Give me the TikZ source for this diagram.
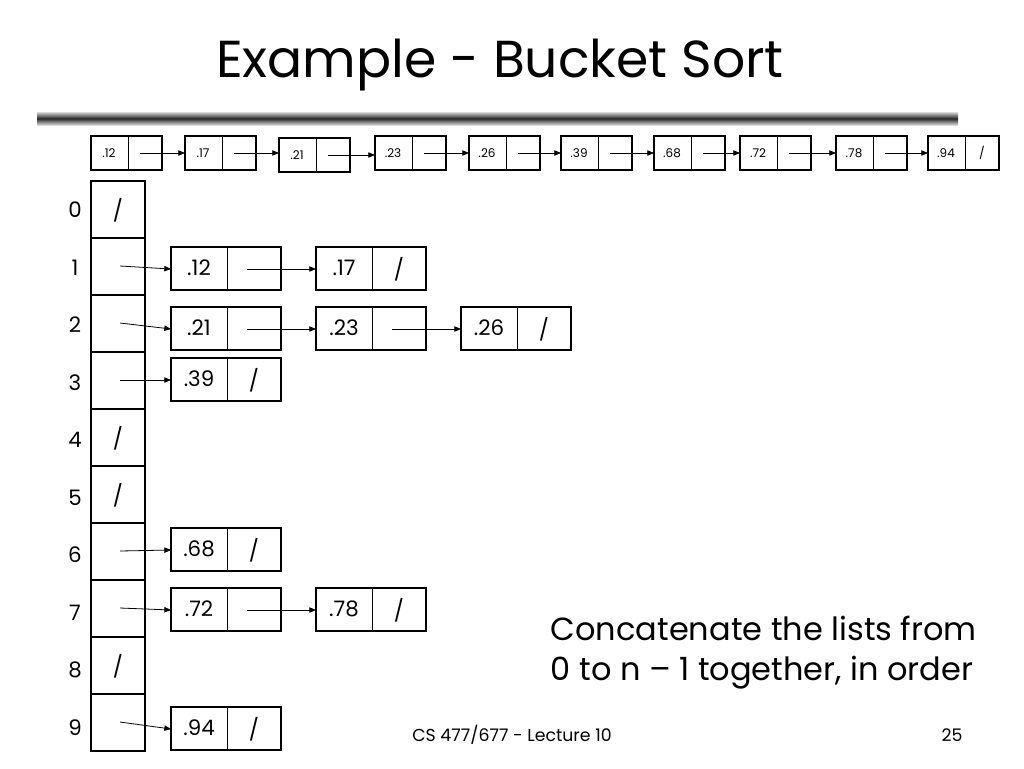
\documentclass[tikz,border=0pt]{standalone}
\usepackage{fontspec}
\setmainfont{Poppins}
\usetikzlibrary{arrows.meta}
\begin{document}
\begin{tikzpicture}[x=0.75pt,y=-0.75pt,
  cellbox/.style={draw,line width=1.6pt},
  thin/.style={draw,line width=0.6pt},
  arr/.style={-{Triangle[length=5pt,width=4pt]},line width=0.6pt},
  tiny/.style={font=\fontsize{9}{9}\selectfont},
  lab/.style={font=\fontsize{16}{16}\selectfont}]
\useasboundingbox (0,0) rectangle (1024,768);
\node[font=\fontsize{39}{39}\selectfont] (title) at (500,65) {Example - Bucket Sort};
\shade[top color=gray!30,bottom color=gray!30,middle color=black!85] (37,112) rectangle (958,125);
% top list
\foreach \x/\t/\yo [count=\i] in {91/.12/0,185/.17/0,279/.21/2,375/.23/0,469/.26/0,561/.39/0,654/.68/0,740/.72/0,836/.78/0,928/.94/0}{
  \draw[cellbox] (\x,136+\yo) rectangle ++(71,34);
  \draw[thin] (\x+37,136+\yo) -- ++(0,34);
  \node[tiny] (t\i) at (\x+18,153+\yo) {\t};
  \coordinate (ts\i) at (\x+49,153+\yo);
  \coordinate (tl\i) at (\x,153+\yo);
}
\node[tiny] (tslash) at (928+54,153) {/};
\foreach \i [evaluate=\i as \j using int(\i+1)] in {1,...,9}{
  \draw[arr] (ts\i) -- (tl\j |- ts\i);
}
% array
\foreach \r in {0,...,9}{
  \draw[cellbox] (91,181+57*\r) rectangle ++(54,57);
  \node[lab] (idx\r) at (75,210+57.5*\r) {\r};
  \coordinate (a\r) at (120,209+57*\r);
}
\foreach \r in {0,4,5,8}{ \node[lab] (s\r) at (118,210+57*\r) {/}; }
% buckets
\newcommand{\bk}[5]{% name x y text last
  \draw[cellbox] (#2,#3) rectangle ++(110,43);
  \draw[thin] (#2+56,#3) -- ++(0,43);
  \node[lab] (#1) at (#2+28,#3+21) {#4};
  \coordinate (#1l) at (#2,#3+22);
  \coordinate (#1r) at (#2+76,#3+22);
  \ifx#5y\node[lab] (#1s) at (#2+83,#3+22) {/};\fi}
\bk{b1a}{171}{247}{.12}{n}\bk{b1b}{316}{247}{.17}{y}
\bk{b2a}{171}{307}{.21}{n}\bk{b2b}{316}{307}{.23}{n}\bk{b2c}{461}{307}{.26}{y}
\bk{b3a}{171}{358}{.39}{y}
\bk{b6a}{171}{528}{.68}{y}
\bk{b7a}{171}{588}{.72}{n}\bk{b7b}{316}{588}{.78}{y}
\bk{b9a}{171}{707}{.94}{y}
\draw[arr] (a1) -- (b1al);\draw[arr] (b1ar) -- (b1bl);
\draw[arr] (a2) -- (b2al);\draw[arr] (b2ar) -- (b2bl);\draw[arr] (b2br) -- (b2cl);
\draw[arr] (a3) -- (b3al);
\draw[arr] (a6) -- (b6al);
\draw[arr] (a7) -- (b7al);\draw[arr] (b7ar) -- (b7bl);
\draw[arr] (a9) -- (b9al);
\node[font=\fontsize{24}{30}\selectfont,align=left,anchor=west] (note) at (546,653) {Concatenate the lists from\\0 to n -- 1 together, in order};
\node[font=\fontsize{13}{13}\selectfont] (foot) at (512,735) {CS 477/677 - Lecture 10};
\node[font=\fontsize{13}{13}\selectfont] (pg) at (952,735) {25};
\end{tikzpicture}
\end{document}
